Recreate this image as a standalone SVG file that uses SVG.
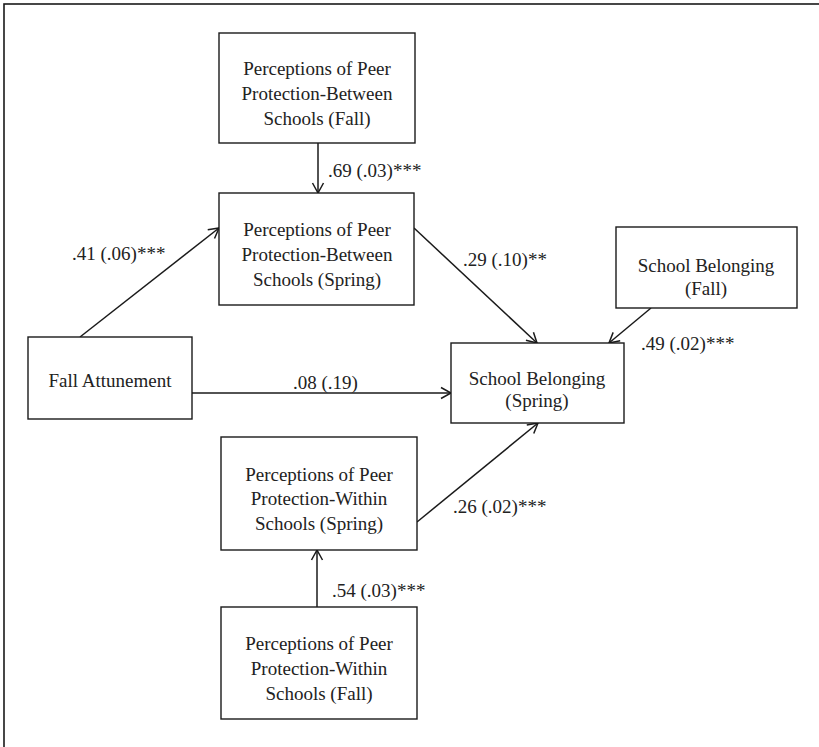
<svg xmlns="http://www.w3.org/2000/svg" width="819" height="747" viewBox="0 0 819 747">
<style>
.box{fill:#fff;stroke:#1a1a1a;stroke-width:1.4}
.t{font-family:"Liberation Serif","Times New Roman",serif;font-size:19px;fill:#222;text-anchor:middle}
.lab{font-family:"Liberation Serif","Times New Roman",serif;font-size:19px;fill:#222}
.c{stroke:#1a1a1a;stroke-width:1.5;fill:none;marker-end:url(#ah)}
</style>
<defs>
<marker id="ah" markerUnits="userSpaceOnUse" markerWidth="14" markerHeight="14" viewBox="0 0 14 14" refX="12" refY="7" orient="auto">
<path d="M2,1.5 L12,7 L2,12.5" fill="none" stroke="#1a1a1a" stroke-width="1.5"/>
</marker>
</defs>
<rect width="819" height="747" fill="#fff"/>
<rect x="4" y="4" width="840" height="780" fill="none" stroke="#1a1a1a" stroke-width="1.6"/>
<g id="connectors">
<line class="c" x1="318" y1="143" x2="318" y2="193"/>
<line class="c" x1="80" y1="337" x2="219" y2="228"/>
<line class="c" x1="414" y1="228" x2="537" y2="343"/>
<line class="c" x1="651" y1="308" x2="609" y2="343"/>
<line class="c" x1="192" y1="393" x2="451" y2="393"/>
<line class="c" x1="417" y1="522" x2="538" y2="423"/>
<line class="c" x1="317" y1="607" x2="317" y2="550"/>
<text class="lab" x="328" y="177">.69 (.03)***</text>
<text class="lab" x="72" y="260">.41 (.06)***</text>
<text class="lab" x="463" y="266">.29 (.10)**</text>
<text class="lab" x="641" y="350">.49 (.02)***</text>
<text class="lab" x="293" y="389">.08 (.19)</text>
<text class="lab" x="453" y="513">.26 (.02)***</text>
<text class="lab" x="332" y="597">.54 (.03)***</text>
</g>
<g id="pb_fall">
<rect class="box" x="219" y="33" width="196" height="110"/>
<text class="t" x="317" y="75">Perceptions of Peer</text>
<text class="t" x="317" y="100">Protection-Between</text>
<text class="t" x="317" y="125">Schools (Fall)</text>
</g>
<g id="pb_spring">
<rect class="box" x="219" y="193" width="195" height="112"/>
<text class="t" x="317" y="236">Perceptions of Peer</text>
<text class="t" x="317" y="261">Protection-Between</text>
<text class="t" x="317" y="286">Schools (Spring)</text>
</g>
<g id="fall_att">
<rect class="box" x="28" y="337" width="164" height="82"/>
<text class="t" x="110" y="387">Fall Attunement</text>
</g>
<g id="sb_fall">
<rect class="box" x="616" y="227" width="181" height="81"/>
<text class="t" x="706" y="272">School Belonging</text>
<text class="t" x="706" y="295">(Fall)</text>
</g>
<g id="sb_spring">
<rect class="box" x="451" y="343" width="173" height="80"/>
<text class="t" x="537" y="385">School Belonging</text>
<text class="t" x="537" y="407">(Spring)</text>
</g>
<g id="pw_spring">
<rect class="box" x="221" y="437" width="196" height="113"/>
<text class="t" x="319" y="481">Perceptions of Peer</text>
<text class="t" x="319" y="505">Protection-Within</text>
<text class="t" x="319" y="530">Schools (Spring)</text>
</g>
<g id="pw_fall">
<rect class="box" x="221" y="607" width="196" height="112"/>
<text class="t" x="319" y="650">Perceptions of Peer</text>
<text class="t" x="319" y="675">Protection-Within</text>
<text class="t" x="319" y="700">Schools (Fall)</text>
</g>
</svg>
